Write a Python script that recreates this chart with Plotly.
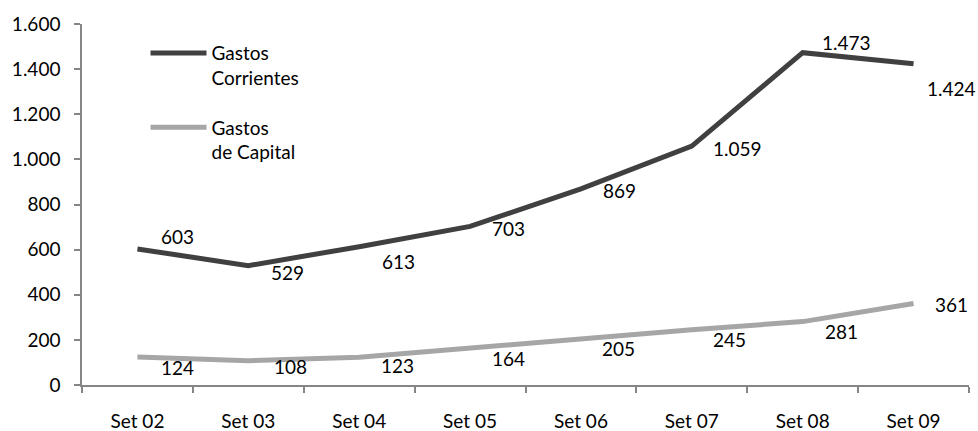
import plotly.graph_objects as go

categories = ["Set 02", "Set 03", "Set 04", "Set 05", "Set 06", "Set 07", "Set 08", "Set 09"]
corrientes = [603, 529, 613, 703, 869, 1059, 1473, 1424]
capital = [124, 108, 123, 164, 205, 245, 281, 361]
corrientes_labels = ["603", "529", "613", "703", "869", "1.059", "1.473", "1.424"]
capital_labels = ["124", "108", "123", "164", "205", "245", "281", "361"]

# label offsets (px) for styling
corr_off = [(40, 12), (39, -7), (39, -15), (38, -2), (39, -2), (46, -2), (44, 10), (38, -25)]
cap_off = [(40, -10), (42, -6), (38, -8), (38, -10), (38, -10), (38, -10), (39, -10), (38, -1)]

FONT = "Lato"
fs = 19
dark = "#404040"
light = "#A6A6A6"
axis_col = "#868686"

fig = go.Figure()
fig.add_trace(go.Scatter(x=categories, y=corrientes, mode="lines",
                         line=dict(color=dark, width=5), legendgroup="a",
                         name="Gastos<br>Corrientes"))
fig.add_trace(go.Scatter(x=categories, y=capital, mode="lines",
                         line=dict(color=light, width=5), legendgroup="b",
                         name="Gastos<br>de Capital"))

annots = []
for c, v, t, (dx, dy) in zip(categories, corrientes, corrientes_labels, corr_off):
    annots.append(dict(x=c, y=v, text=t, showarrow=False, xshift=dx, yshift=dy,
                       font=dict(family=FONT, size=fs, color="black")))
for c, v, t, (dx, dy) in zip(categories, capital, capital_labels, cap_off):
    annots.append(dict(x=c, y=v, text=t, showarrow=False, xshift=dx, yshift=dy,
                       font=dict(family=FONT, size=fs, color="black")))

fig.update_layout(
    width=978, height=431,
    margin=dict(l=82, r=9, t=24, b=46),
    paper_bgcolor="white", plot_bgcolor="white",
    separators=",.",
    font=dict(family=FONT, size=fs, color="black"),
    annotations=annots,
    showlegend=True,
    legend=dict(x=0.0716, y=0.972, xanchor="left", yanchor="top",
                bgcolor="rgba(0,0,0,0)", valign="top",
                traceorder="grouped", tracegroupgap=22, itemwidth=56,
                font=dict(family=FONT, size=fs, color="black")),
    xaxis=dict(type="category", range=[-0.5, 7.5], tickson="boundaries",
               ticks="outside", ticklen=6, tickcolor=axis_col, tickwidth=1.5,
               showline=True, linecolor=axis_col, linewidth=1.5,
               ticklabelstandoff=18, automargin=False,
               showgrid=False, zeroline=False),
    yaxis=dict(range=[0, 1600], dtick=200, tickformat=",d",
               ticks="outside", ticklen=6, tickcolor=axis_col, tickwidth=1.5,
               showline=True, linecolor=axis_col, linewidth=1.5,
               ticklabelstandoff=10, automargin=False,
               showgrid=False, zeroline=False),
)
fig.write_html("out.html", config={"displayModeBar": False},
               post_script="document.body.style.margin='0';document.body.style.overflow='hidden';")
